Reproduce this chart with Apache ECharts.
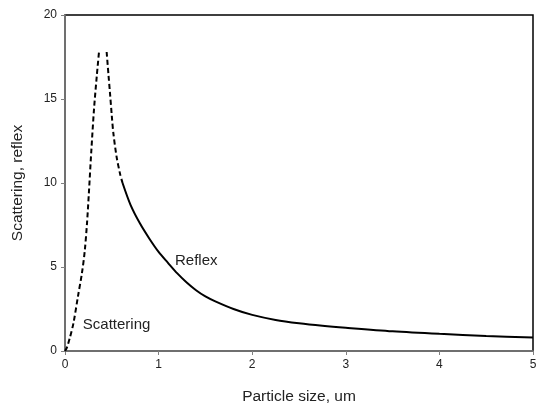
<!DOCTYPE html>
<html>
<head>
<meta charset="utf-8">
<script src="https://cdn.jsdelivr.net/npm/echarts@6/dist/echarts.min.js"></script>
<style>html,body{margin:0;padding:0;background:#fff}#c{width:541px;height:404px}</style>
</head>
<body>
<div id="c"></div>
<script>
var xTicks = [0, 1, 2, 3, 4, 5];
var yTicks = [0, 5, 10, 15, 20];
var scatteringX = [0, 0.02, 0.05, 0.09, 0.14, 0.18, 0.21, 0.235, 0.255, 0.28, 0.31, 0.34, 0.365];
var scatteringY = [0, 0.2, 0.75, 1.65, 3.3, 4.6, 5.9, 7.6, 9.4, 11.8, 14.4, 16.4, 17.9];
var reflexDashX = [0.445, 0.465, 0.48, 0.50, 0.516, 0.55, 0.59, 0.615];
var reflexDashY = [17.8, 16.4, 15.4, 14.0, 13.0, 11.6, 10.5, 10.0];
var reflexX = [0.615, 0.70, 0.80, 0.90, 1.00, 1.10, 1.20, 1.30, 1.40, 1.50, 1.60, 1.80, 2.00, 2.25, 2.50, 2.75, 3.00, 3.50, 4.00, 4.50, 5.00];
var reflexY = [10.0, 8.7, 7.6, 6.7, 5.9, 5.25, 4.62, 4.08, 3.62, 3.25, 2.97, 2.5, 2.15, 1.85, 1.65, 1.5, 1.38, 1.17, 1.02, 0.9, 0.8];
var annotations = [
  {text: 'Scattering', x: 0.19, y: 1.55},
  {text: 'Reflex', x: 1.175, y: 5.35}
];

function zip(a, b) { return a.map(function (v, i) { return [v, b[i]]; }); }

var chart = echarts.init(document.getElementById('c'));
var font = 'Liberation Sans, Arial, sans-serif';
chart.setOption({
  animation: false,
  grid: {left: 65, right: 8, top: 15, bottom: 53, show: true, borderColor: '#000', borderWidth: 1.5,
         containLabel: false, outerBoundsMode: 'none'},
  xAxis: {
    type: 'value', min: xTicks[0], max: xTicks[xTicks.length - 1], interval: 1,
    name: 'Particle size, um', nameLocation: 'middle', nameGap: 38,
    nameTextStyle: {fontFamily: font, fontSize: 15.5, color: '#222'},
    axisLine: {lineStyle: {color: '#808080', width: 1.5}},
    axisTick: {show: true, length: 4, lineStyle: {color: '#808080'}},
    axisLabel: {fontFamily: font, fontSize: 12, color: '#222', margin: 8},
    splitLine: {show: false}
  },
  yAxis: {
    type: 'value', min: yTicks[0], max: yTicks[yTicks.length - 1], interval: 5,
    name: 'Scattering, reflex', nameLocation: 'middle', nameGap: 39, nameRotate: 90,
    nameTextStyle: {fontFamily: font, fontSize: 15.5, color: '#222'},
    axisLine: {show: true, lineStyle: {color: '#808080', width: 1.5}},
    axisTick: {show: true, length: 4, lineStyle: {color: '#808080'}},
    axisLabel: {fontFamily: font, fontSize: 12, color: '#222', margin: 8},
    splitLine: {show: false}
  },
  series: [
    {
      type: 'line', data: zip(scatteringX, scatteringY), symbol: 'none', smooth: 0.3,
      lineStyle: {color: '#000', width: 2, type: [5, 3]},
      markPoint: {
        symbol: 'rect', symbolSize: 0,
        label: {show: true, position: 'right', distance: 0, formatter: '{b}', fontFamily: font, fontSize: 15, color: '#222'},
        data: annotations.map(function (a) { return {name: a.text, coord: [a.x, a.y]}; })
      }
    },
    {
      type: 'line', data: zip(reflexDashX, reflexDashY), symbol: 'none', smooth: 0.3,
      lineStyle: {color: '#000', width: 2, type: [5, 3]}
    },
    {
      type: 'line', data: zip(reflexX, reflexY), symbol: 'none', smooth: 0.3,
      lineStyle: {color: '#000', width: 2}
    }
  ]
});
</script>
</body>
</html>
